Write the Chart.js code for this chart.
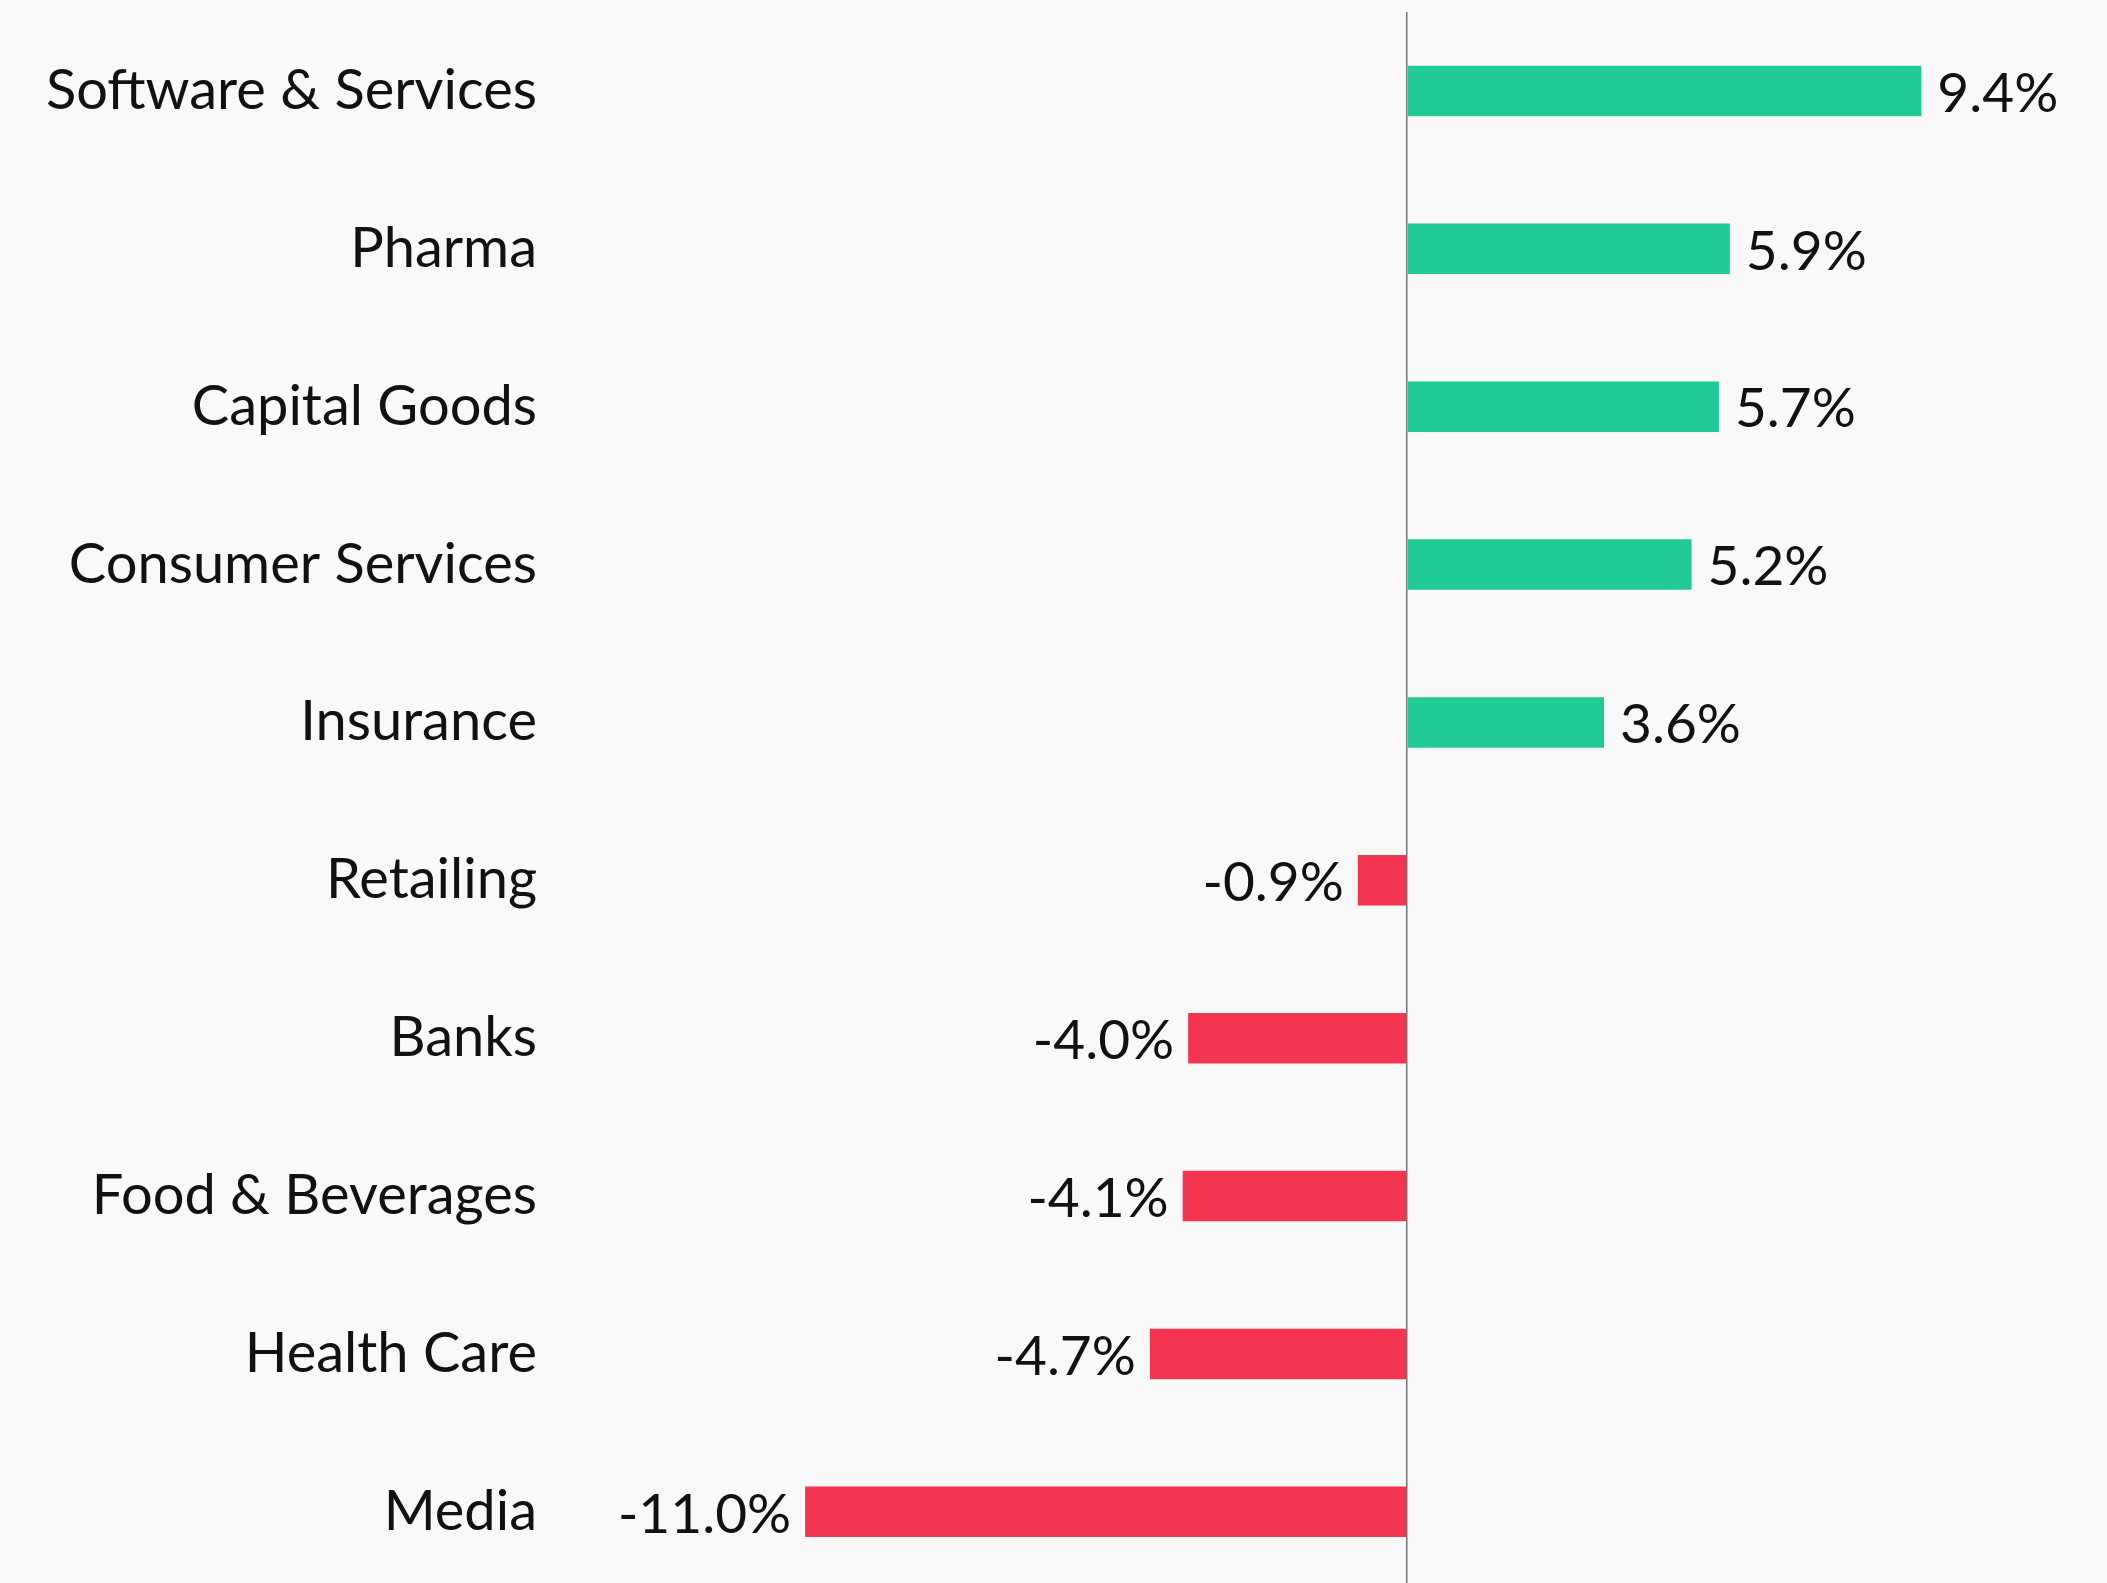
<!DOCTYPE html>
<html>
<head>
<meta charset="utf-8">
<script src="https://cdn.jsdelivr.net/npm/chart.js@4/dist/chart.umd.min.js"></script>
<style>
  html, body { margin: 0; padding: 0; background: #f9f9f9; overflow: hidden; }
  /* slightly taller than the window so the last row runs off the bottom */
  #wrap { width: 2107px; height: 1591px; position: relative; }
</style>
</head>
<body>
<div id="wrap"><canvas id="sectorChart"></canvas></div>
<script>
// sector returns, top to bottom
const sectors = [
  'Software & Services', 'Pharma', 'Capital Goods', 'Consumer Services', 'Insurance',
  'Retailing', 'Banks', 'Food & Beverages', 'Health Care', 'Media'
];
const returns = [9.4, 5.9, 5.7, 5.2, 3.6, -0.9, -4.0, -4.1, -4.7, -11.0];

const GREEN = '#21c994';
const RED = '#f43552';
const FONT = 'Lato, "Noto Sans", sans-serif';
const FONT_SIZE = 56;

// value text next to the end of each bar
const valueLabels = {
  id: 'valueLabels',
  afterDatasetsDraw(chart) {
    const ctx = chart.ctx;
    const meta = chart.getDatasetMeta(0);
    ctx.save();
    ctx.font = '55px ' + FONT;
    ctx.fillStyle = '#111';
    ctx.textBaseline = 'middle';
    meta.data.forEach((bar, i) => {
      const v = returns[i];
      const txt = v.toFixed(1) + '%';
      if (v >= 0) {
        ctx.textAlign = 'left';
        ctx.fillText(txt, bar.x + 16, bar.y + 3);
      } else {
        ctx.textAlign = 'right';
        ctx.fillText(txt, bar.x - 14, bar.y + 3);
      }
    });
    ctx.restore();
  }
};

new Chart(document.getElementById('sectorChart').getContext('2d'), {
  type: 'bar',
  data: {
    labels: sectors,
    datasets: [{
      data: returns,
      backgroundColor: returns.map(v => v >= 0 ? GREEN : RED),
      borderWidth: 0,
      barPercentage: 0.32,
      categoryPercentage: 1
    }]
  },
  options: {
    indexAxis: 'y',
    responsive: true,
    maintainAspectRatio: false,
    animation: false,
    layout: { padding: { top: 12, right: 16, bottom: 0, left: 0 } },
    plugins: {
      legend: { display: false },
      tooltip: { enabled: false }
    },
    scales: {
      x: {
        min: -15.9,
        max: 12.5,
        ticks: { display: false, stepSize: 5, padding: 0 },
        border: { display: false },
        grid: {
          drawTicks: false,
          color: c => c.tick && c.tick.value === 0 ? '#777' : 'rgba(0,0,0,0)',
          lineWidth: 1.5
        }
      },
      y: {
        afterFit: scale => { scale.width = 537; },
        border: { display: false },
        grid: { display: false, drawTicks: false },
        ticks: {
          padding: 0,
          color: '#111',
          font: { family: FONT, size: FONT_SIZE, lineHeight: 0.01 }
        }
      }
    }
  },
  plugins: [valueLabels]
});
</script>
</body>
</html>
